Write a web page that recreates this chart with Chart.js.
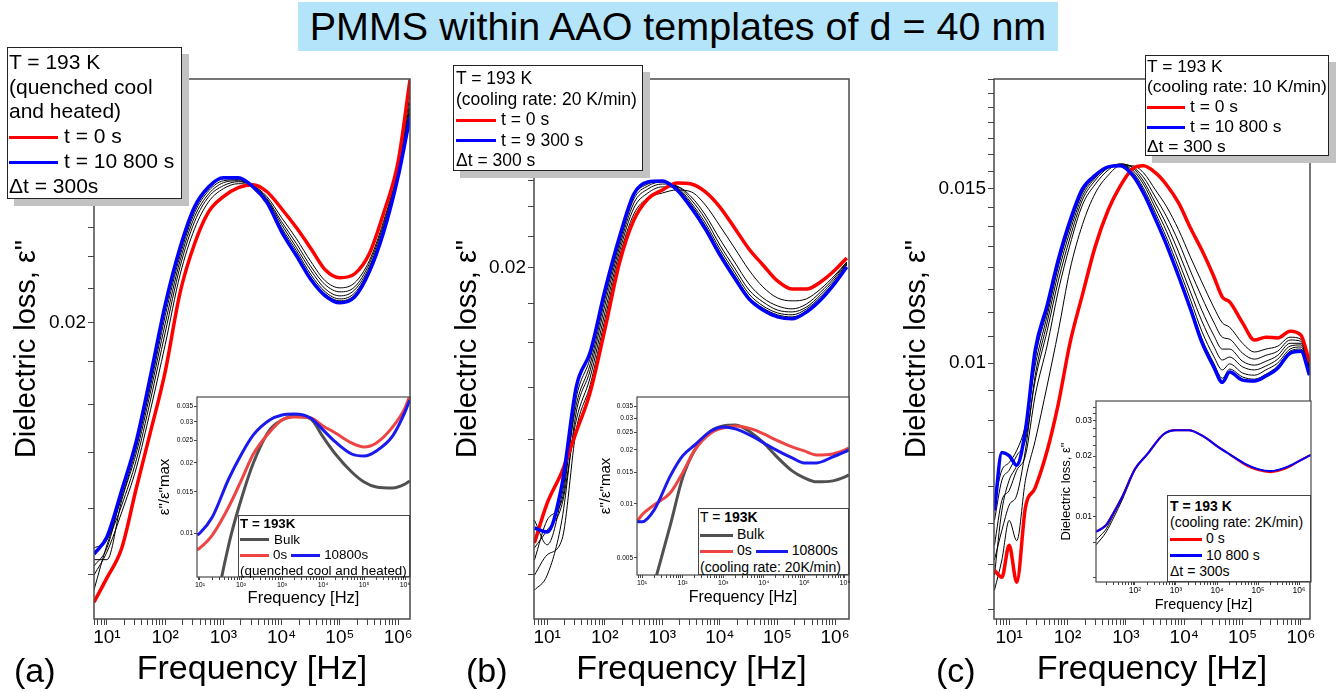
<!DOCTYPE html>
<html>
<head>
<meta charset="utf-8">
<script src="https://cdn.jsdelivr.net/npm/chart.js@4.4.1/dist/chart.umd.min.js"></script>
<style>
body { margin: 0; width: 1343px; height: 692px; background: #fff; position: relative; overflow: hidden;
       font-family: "Liberation Sans", Arial, sans-serif; color: #000; }
canvas { position: absolute; }
#title { position: absolute; left: 298px; top: 2px; width: 760px; height: 49px; background: #b4e4fa;
         font-size: 39.5px; line-height: 49px; text-align: center; white-space: nowrap; }
.tag { position: absolute; font-size: 34px; line-height: 40px; }
.lg { position: absolute; box-sizing: border-box; background: #fff; border: 1px solid #222; white-space: nowrap; }
.sh { box-shadow: 7px 7px 0 #c2c2c2; }
.sw { display: inline-block; vertical-align: middle; border-top-style: solid; }
</style>
</head>
<body>
<canvas id="ca"></canvas>
<canvas id="cb"></canvas>
<canvas id="cc"></canvas>
<canvas id="ia"></canvas>
<canvas id="ib"></canvas>
<canvas id="ic"></canvas>

<div id="title">PMMS within AAO templates of d = 40 nm</div>
<div class="tag" style="left:14px;top:650px">(a)</div>
<div class="tag" style="left:466px;top:650px">(b)</div>
<div class="tag" style="left:936px;top:650px">(c)</div>

<!-- main legends -->
<div class="lg sh" style="left:7px;top:47px;width:175px;height:152px;font-size:21px;line-height:24.7px;padding:2px 0 0 1px">
  <div>T = 193 K</div>
  <div>(quenched cool</div>
  <div>and heated)</div>
  <div><span class="sw" style="width:49px;border-top-width:3.5px;border-color:#f00;margin-right:6px"></span>t = 0 s</div>
  <div><span class="sw" style="width:49px;border-top-width:3.5px;border-color:#00f;margin-right:6px"></span>t = 10 800 s</div>
  <div>&Delta;t = 300s</div>
</div>
<div class="lg sh" style="left:453px;top:65px;width:190px;height:106px;font-size:17.5px;line-height:20.5px;padding:2px 0 0 2px">
  <div>T = 193 K</div>
  <div>(cooling rate: 20 K/min)</div>
  <div><span class="sw" style="width:40px;border-top-width:3.5px;border-color:#f00;margin-right:5px"></span>t = 0 s</div>
  <div><span class="sw" style="width:40px;border-top-width:3.5px;border-color:#00f;margin-right:5px"></span>t = 9 300 s</div>
  <div>&Delta;t = 300 s</div>
</div>
<div class="lg sh" style="left:1145px;top:55px;width:184px;height:101px;font-size:17.4px;line-height:20px;padding:0 0 0 1px">
  <div>T = 193 K</div>
  <div>(cooling rate: 10 K/min)</div>
  <div><span class="sw" style="width:38px;border-top-width:3.5px;border-color:#f00;margin-right:5px"></span>t = 0 s</div>
  <div><span class="sw" style="width:38px;border-top-width:3.5px;border-color:#00f;margin-right:5px"></span>t = 10 800 s</div>
  <div>&Delta;t = 300 s</div>
</div>

<!-- inset legends -->
<div class="lg" style="left:238px;top:515px;width:172px;height:62px;font-size:13.4px;line-height:15.5px;padding:0 0 0 1px;border-color:#444">
  <div><b>T = 193K</b></div>
  <div><span class="sw" style="width:29px;border-top-width:3.5px;border-color:#505050;margin-right:5px"></span>Bulk</div>
  <div><span class="sw" style="width:29px;border-top-width:3.5px;border-color:#ee4444;margin-right:4px"></span>0s<span class="sw" style="width:29px;border-top-width:3.5px;border-color:#1a1aee;margin:0 4px 0 4px"></span>10800s</div>
  <div>(quenched cool and heated)</div>
</div>
<div class="lg" style="left:698px;top:508px;width:151px;height:67px;font-size:14px;line-height:16.7px;padding:0 0 0 1px;border-color:#444">
  <div>T = <b>193K</b></div>
  <div><span class="sw" style="width:33px;border-top-width:3.5px;border-color:#505050;margin-right:4px"></span>Bulk</div>
  <div><span class="sw" style="width:33px;border-top-width:3.5px;border-color:#ee4444;margin-right:4px"></span>0s<span class="sw" style="width:32px;border-top-width:3.5px;border-color:#1a1aee;margin:0 4px 0 4px"></span>10800s</div>
  <div>(cooling rate: 20K/min)</div>
</div>
<div class="lg" style="left:1167px;top:495px;width:144px;height:87px;font-size:14px;line-height:16.2px;padding:2px 0 0 2px;border-color:#444">
  <div><b>T = 193 K</b></div>
  <div>(cooling rate: 2K/min)</div>
  <div><span class="sw" style="width:32px;border-top-width:3px;border-color:#f00;margin-right:4px"></span>0 s</div>
  <div><span class="sw" style="width:32px;border-top-width:3px;border-color:#00f;margin-right:4px"></span>10 800 s</div>
  <div>&Delta;t = 300s</div>
</div>

<script>
// ---- panel (a): quenched cool and heated ----
const freqA = [6, 10, 18, 32, 56, 100, 180, 320, 560, 1000, 1800, 3200, 5600, 1e4, 1.8e4, 3.2e4, 5.6e4, 1e5, 1.8e5, 3.2e5, 5.6e5, 1e6, 1.6e6];
const redA  = [0.00928, 0.00992, 0.01077, 0.01270, 0.01482, 0.01748, 0.02172, 0.02486, 0.02715, 0.02829, 0.02900, 0.02924, 0.02868, 0.02737, 0.02597, 0.02452, 0.02314, 0.02264, 0.02289, 0.02418, 0.02700, 0.03114, 0.03902];
const blueA = [0.01059, 0.01110, 0.01263, 0.01446, 0.01729, 0.02101, 0.02458, 0.02752, 0.02908, 0.02981, 0.02981, 0.02908, 0.02783, 0.02569, 0.02405, 0.02251, 0.02154, 0.02113, 0.02148, 0.02301, 0.02562, 0.02989, 0.03524];
const blackA1 = [0.01000, 0.01065, 0.01189, 0.01342, 0.01574, 0.01883, 0.02282, 0.02590, 0.02791, 0.02892, 0.02932, 0.02916, 0.02829, 0.02670, 0.02520, 0.02365, 0.02245, 0.02202, 0.02233, 0.02372, 0.02641, 0.03064, 0.03745];
const blackA2 = [0.00960, 0.01086, 0.01212, 0.01372, 0.01618, 0.01946, 0.02333, 0.02641, 0.02829, 0.02916, 0.02948, 0.02916, 0.02814, 0.02641, 0.02486, 0.02333, 0.02221, 0.02178, 0.02208, 0.02353, 0.02620, 0.03047, 0.03674];
const blackA3 = [0.01043, 0.01043, 0.01229, 0.01399, 0.01654, 0.01995, 0.02372, 0.02677, 0.02852, 0.02940, 0.02956, 0.02908, 0.02806, 0.02620, 0.02459, 0.02308, 0.02196, 0.02154, 0.02190, 0.02333, 0.02598, 0.03030, 0.03624];
const blackA4 = [0.01077, 0.01101, 0.01239, 0.01418, 0.01681, 0.02039, 0.02405, 0.02707, 0.02876, 0.02956, 0.02964, 0.02908, 0.02798, 0.02598, 0.02438, 0.02282, 0.02178, 0.02136, 0.02172, 0.02320, 0.02583, 0.03014, 0.03585];
const blackA5 = [0.01025, 0.01077, 0.01253, 0.01434, 0.01704, 0.02073, 0.02432, 0.02729, 0.02892, 0.02972, 0.02972, 0.02908, 0.02791, 0.02583, 0.02418, 0.02264, 0.02166, 0.02125, 0.02160, 0.02308, 0.02569, 0.02997, 0.03555];

// ---- panel (b): cooling rate 20 K/min ----
const freqB = [6, 10, 18, 32, 56, 100, 180, 320, 560, 1000, 1800, 3200, 5600, 1e4, 1.8e4, 3.2e4, 5.6e4, 1e5, 1.8e5, 3.2e5, 5.6e5, 1e6, 1.6e6];
const redB  = [0.00880, 0.00991, 0.01088, 0.01226, 0.01381, 0.01662, 0.02030, 0.02308, 0.02458, 0.02525, 0.02578, 0.02570, 0.02510, 0.02399, 0.02254, 0.02117, 0.02018, 0.01924, 0.01878, 0.01878, 0.01918, 0.01988, 0.02061];
const blueB = [0.00920, 0.00909, 0.01046, 0.01402, 0.01556, 0.01867, 0.02194, 0.02495, 0.02586, 0.02594, 0.02525, 0.02392, 0.02247, 0.02080, 0.01941, 0.01824, 0.01764, 0.01728, 0.01718, 0.01754, 0.01818, 0.01912, 0.02006];
const blackB1 = [0.00799, 0.00849, 0.00888, 0.01234, 0.01411, 0.01713, 0.02067, 0.02350, 0.02465, 0.02502, 0.02525, 0.02510, 0.02414, 0.02268, 0.02123, 0.01988, 0.01890, 0.01829, 0.01813, 0.01824, 0.01878, 0.01958, 0.02036];
const blackB2 = [0.00867, 0.00914, 0.00986, 0.01270, 0.01444, 0.01748, 0.02098, 0.02392, 0.02502, 0.02548, 0.02548, 0.02472, 0.02343, 0.02180, 0.02036, 0.01907, 0.01829, 0.01786, 0.01770, 0.01796, 0.01861, 0.01947, 0.02036];
const blackB3 = [0.00764, 0.00799, 0.00942, 0.01301, 0.01475, 0.01786, 0.02129, 0.02428, 0.02532, 0.02570, 0.02555, 0.02450, 0.02315, 0.02142, 0.02000, 0.01873, 0.01807, 0.01764, 0.01754, 0.01780, 0.01846, 0.01935, 0.02030];
const blackB4 = [0.00942, 0.00875, 0.01015, 0.01329, 0.01502, 0.01818, 0.02154, 0.02458, 0.02555, 0.02586, 0.02548, 0.02428, 0.02287, 0.02117, 0.01976, 0.01851, 0.01786, 0.01749, 0.01739, 0.01770, 0.01834, 0.01924, 0.02024];
const blackB5 = [0.00836, 0.00942, 0.01000, 0.01357, 0.01529, 0.01846, 0.02174, 0.02480, 0.02570, 0.02594, 0.02540, 0.02414, 0.02268, 0.02098, 0.01958, 0.01834, 0.01775, 0.01739, 0.01728, 0.01759, 0.01824, 0.01918, 0.02018];

// ---- panel (c): cooling rate 10 K/min ----
const freqC = [5.6, 7.5, 10, 13.5, 19, 28, 45, 70, 110, 180, 300, 500, 800, 1300, 2000, 3200, 5000, 8000, 1.3e4, 2e4, 3.2e4, 4.5e4, 6e4, 1e5, 1.6e5, 2.5e5, 4e5, 6.5e5, 1e6, 1.4e6];
const redC  = [0.00617, 0.00607, 0.00654, 0.00600, 0.00714, 0.00748, 0.00816, 0.00911, 0.01047, 0.01172, 0.01313, 0.01429, 0.01510, 0.01572, 0.01583, 0.01558, 0.01514, 0.01452, 0.01367, 0.01301, 0.01224, 0.01166, 0.01153, 0.01098, 0.01055, 0.01062, 0.01060, 0.01077, 0.01067, 0.01002];
const blueC = [0.00709, 0.00812, 0.00806, 0.00788, 0.00855, 0.01031, 0.01145, 0.01274, 0.01392, 0.01500, 0.01549, 0.01579, 0.01583, 0.01549, 0.01486, 0.01399, 0.01316, 0.01224, 0.01131, 0.01050, 0.00991, 0.00956, 0.00979, 0.00961, 0.00959, 0.00970, 0.00988, 0.01023, 0.01028, 0.00972];
const blackC1 = [0.00589, 0.00632, 0.00693, 0.00661, 0.00761, 0.00835, 0.00950, 0.01079, 0.01242, 0.01380, 0.01486, 0.01549, 0.01583, 0.01583, 0.01558, 0.01497, 0.01439, 0.01364, 0.01277, 0.01208, 0.01139, 0.01098, 0.01087, 0.01047, 0.01026, 0.01033, 0.01040, 0.01062, 0.01057, 0.00995];
const blackC2 = [0.00654, 0.00726, 0.00743, 0.00779, 0.00806, 0.00928, 0.01043, 0.01185, 0.01316, 0.01445, 0.01517, 0.01568, 0.01590, 0.01579, 0.01542, 0.01472, 0.01406, 0.01326, 0.01236, 0.01166, 0.01100, 0.01062, 0.01057, 0.01023, 0.01009, 0.01018, 0.01028, 0.01055, 0.01052, 0.00991];
const blackC3 = [0.00693, 0.00761, 0.00779, 0.00806, 0.00835, 0.00961, 0.01079, 0.01213, 0.01338, 0.01462, 0.01531, 0.01576, 0.01590, 0.01576, 0.01528, 0.01452, 0.01380, 0.01295, 0.01205, 0.01131, 0.01067, 0.01033, 0.01033, 0.01004, 0.00995, 0.01004, 0.01018, 0.01047, 0.01047, 0.00988];
const blackC4 = [0.00632, 0.00677, 0.00718, 0.00735, 0.00816, 0.00972, 0.01100, 0.01236, 0.01358, 0.01475, 0.01539, 0.01579, 0.01587, 0.01568, 0.01517, 0.01435, 0.01358, 0.01268, 0.01177, 0.01103, 0.01040, 0.01007, 0.01014, 0.00991, 0.00984, 0.00993, 0.01009, 0.01040, 0.01043, 0.00984];
const blackC5 = [0.00726, 0.00779, 0.00793, 0.00816, 0.00865, 0.00995, 0.01118, 0.01254, 0.01373, 0.01486, 0.01542, 0.01579, 0.01587, 0.01561, 0.01503, 0.01419, 0.01338, 0.01248, 0.01156, 0.01077, 0.01016, 0.00984, 0.00998, 0.00977, 0.00972, 0.00984, 0.01000, 0.01033, 0.01038, 0.00981];
const blackC6 = [0.00610, 0.00709, 0.00761, 0.00788, 0.00845, 0.01011, 0.01131, 0.01265, 0.01383, 0.01493, 0.01546, 0.01579, 0.01583, 0.01553, 0.01493, 0.01406, 0.01323, 0.01231, 0.01139, 0.01059, 0.01000, 0.00965, 0.00986, 0.00968, 0.00963, 0.00974, 0.00993, 0.01028, 0.01033, 0.00977];

// ---- insets ----
const freqIA = [8.5, 10, 20, 50, 100, 200, 500, 1000, 2000, 5000, 1e4, 2e4, 5e4, 1e5, 2e5, 5e5, 1e6, 1.3e6];
const bulkIA = [0.0010, 0.0013, 0.00384, 0.00888, 0.01385, 0.01997, 0.02767, 0.03054, 0.03178, 0.03084, 0.02582, 0.02182, 0.01827, 0.01655, 0.01575, 0.01560, 0.01623, 0.01672];
const redIA  = [0.00846, 0.00863, 0.00980, 0.01293, 0.01672, 0.02182, 0.02713, 0.03054, 0.03146, 0.03115, 0.02879, 0.02686, 0.02433, 0.02339, 0.02433, 0.02850, 0.03438, 0.03872];
const blueIA = [0.00980, 0.01000, 0.01171, 0.01705, 0.02161, 0.02634, 0.03054, 0.03209, 0.03241, 0.03115, 0.02767, 0.02457, 0.02182, 0.02140, 0.02248, 0.02608, 0.03305, 0.03720];

const freqIB = [7.5, 10, 20, 50, 100, 200, 500, 1000, 2000, 5000, 1e4, 2e4, 5e4, 1e5, 2e5, 5e5, 1e6, 1.25e6];
const bulkIB = [0.00158, 0.00202, 0.00359, 0.00764, 0.01395, 0.01996, 0.02543, 0.02712, 0.02748, 0.02480, 0.02182, 0.01848, 0.01525, 0.01395, 0.01326, 0.01342, 0.01413, 0.01449];
const redIB  = [0.00794, 0.00869, 0.00987, 0.01152, 0.01487, 0.01996, 0.02480, 0.02644, 0.02712, 0.02611, 0.02448, 0.02267, 0.02073, 0.01970, 0.01872, 0.01896, 0.01996, 0.02047];
const blueIB = [0.00794, 0.00794, 0.00926, 0.01431, 0.01848, 0.02127, 0.02543, 0.02679, 0.02611, 0.02386, 0.02182, 0.01996, 0.01801, 0.01689, 0.01689, 0.01825, 0.01945, 0.01996];

const freqIC = [11.2, 15, 20, 30, 50, 100, 200, 500, 1000, 2000, 5000, 1e4, 2e4, 5e4, 1e5, 2e5, 5e5, 1e6, 1.9e6];
const redIC  = [0.00844, 0.00873, 0.00914, 0.01047, 0.01269, 0.01725, 0.02046, 0.02569, 0.02689, 0.02689, 0.02483, 0.02241, 0.02046, 0.01806, 0.01706, 0.01667, 0.01745, 0.01890, 0.02023];
const blueIC = [0.00844, 0.00873, 0.00914, 0.01047, 0.01269, 0.01725, 0.02046, 0.02569, 0.02689, 0.02689, 0.02483, 0.02241, 0.02046, 0.01826, 0.01725, 0.01687, 0.01765, 0.01890, 0.02023];
const blackIC1 = [0.00770, 0.00815, 0.00873, 0.01023, 0.01255, 0.01725, 0.02046, 0.02569, 0.02689, 0.02689, 0.02483, 0.02241, 0.02046, 0.01826, 0.01725, 0.01687, 0.01765, 0.01890, 0.02023];
const blackIC2 = [0.00727, 0.00779, 0.00844, 0.00989, 0.01227, 0.01706, 0.02046, 0.02569, 0.02689, 0.02689, 0.02483, 0.02241, 0.02046, 0.01826, 0.01725, 0.01687, 0.01765, 0.01890, 0.02023];

const FONT = '"Liberation Sans", Arial, sans-serif';
const SUP = { 10: '10¹', 100: '10²', 1000: '10³', 10000: '10⁴', 100000: '10⁵', 1000000: '10⁶' };

function logTicks(min, max) {
    const out = [];
    for (let e = 0; e <= 7; e++)
        for (let m = 1; m <= 9; m++) {
            const v = m * Math.pow(10, e);
            if (v >= min && v <= max) out.push(v);
        }
    return out;
}
function stepTicks(start, step, n) {
    const out = [];
    for (let i = 0; i < n; i++) out.push(Number((start + i * step).toFixed(6)));
    return out;
}
const near = (v, list) => list.find(t => Math.abs(v - t) < 1e-7);

const line = (fx, fy, color, w) => ({
    data: fx.map((f, i) => ({ x: f, y: fy[i] })),
    borderColor: color, borderWidth: w, fill: false
});

// box around the plot area (and optional white fill for the insets)
const framePlugin = {
    id: 'frame',
    beforeDatasetsDraw(chart, args, o) {
        if (!o.fill) return;
        const a = chart.chartArea, ctx = chart.ctx;
        ctx.save();
        ctx.fillStyle = o.fill;
        ctx.fillRect(a.left, a.top, a.right - a.left, a.bottom - a.top);
        ctx.restore();
    },
    afterDraw(chart, args, o) {
        const a = chart.chartArea, ctx = chart.ctx;
        ctx.save();
        ctx.strokeStyle = '#4a4a4a';
        ctx.lineWidth = o.width;
        ctx.strokeRect(a.left, a.top, a.right - a.left, a.bottom - a.top);
        ctx.restore();
    }
};

function makeChart(id, c) {
    const cv = document.getElementById(id);
    const [L, T, W, H] = c.box;
    const [al, at, ar, ab] = c.area;
    cv.width = W; cv.height = H;
    cv.style.left = L + 'px'; cv.style.top = T + 'px';
    return new Chart(cv, {
        type: 'line',
        data: { datasets: c.datasets },
        options: {
            responsive: false, animation: false, devicePixelRatio: 1,
            layout: { padding: { left: 0, top: at - T, right: L + W - ar, bottom: 0 } },
            plugins: { legend: { display: false }, tooltip: { enabled: false }, frame: { width: c.frameWidth, fill: c.fill } },
            elements: { point: { radius: 0 }, line: { cubicInterpolationMode: 'monotone' } },
            scales: {
                x: {
                    type: 'logarithmic', min: c.xMin, max: c.xMax,
                    afterFit: s => { s.height = T + H - ab; },
                    afterBuildTicks: s => { s.ticks = logTicks(c.xMin, c.xMax).map(v => ({ value: v })); },
                    ticks: { autoSkip: false, maxRotation: 0, minRotation: 0, padding: c.xPad, color: '#000',
                             font: { family: FONT, size: c.xTickSize }, callback: v => SUP[v] || '' },
                    grid: { drawOnChartArea: false, tickLength: c.tickLen, tickColor: '#444', color: '#444' },
                    border: { display: false },
                    title: { display: true, text: 'Frequency [Hz]', color: '#000',
                             font: { family: FONT, size: c.xTitleSize }, padding: { top: 0, bottom: c.xTitlePad } }
                },
                y: {
                    type: 'logarithmic', min: c.yMin, max: c.yMax,
                    afterFit: s => { s.width = al - L; },
                    afterBuildTicks: s => { s.ticks = c.yTicks.map(v => ({ value: v })); },
                    ticks: { autoSkip: false, padding: c.yPad, color: '#000',
                             font: { family: FONT, size: c.yTickSize },
                             callback: v => { const t = near(v, c.yLabels); return t === undefined ? '' : String(t); } },
                    grid: { drawOnChartArea: false, tickLength: c.tickLen, tickColor: '#444', color: '#444' },
                    border: { display: false },
                    title: { display: true, text: c.yTitle, color: '#000',
                             font: { family: FONT, size: c.yTitleSize }, padding: { top: c.yTitlePad, bottom: 0 } }
                }
            }
        },
        plugins: [framePlugin]
    });
}

const RED = '#ff0000', BLUE = '#0000ff';
const YT = 'Dielectric loss, ε"';
const mainOpts = { frameWidth: 1.5, tickLen: 6, xPad: 1, yPad: 2, xTickSize: 19, yTickSize: 19,
                   xTitleSize: 34, xTitlePad: 2, yTitleSize: 29, yTitle: YT };

makeChart('ca', Object.assign({}, mainOpts, {
    box: [0, 0, 430, 692], area: [94, 79, 410, 619],
    xMin: 6, xMax: 1.6e6, yMin: 0.00886, yMax: 0.0391,
    yTicks: stepTicks(0.010, 0.002, 15), yLabels: [0.02], yTitlePad: 10,
    datasets: [line(freqA, blueA, BLUE, 3.5), line(freqA, redA, RED, 3.5),
               ...[blackA1, blackA2, blackA3, blackA4, blackA5].map(b => line(freqA, b, '#000', 1))]
}));

makeChart('cb', Object.assign({}, mainOpts, {
    box: [440, 0, 430, 692], area: [534, 79, 849, 619],
    xMin: 5.9, xMax: 1.75e6, yMin: 0.00701, yMax: 0.03517,
    yTicks: stepTicks(0.008, 0.002, 14), yLabels: [0.02], yTitlePad: 11,
    datasets: [line(freqB, blueB, BLUE, 3.5), line(freqB, redB, RED, 3.5),
               ...[blackB1, blackB2, blackB3, blackB4, blackB5].map(b => line(freqB, b, '#000', 1))]
}));

makeChart('cc', Object.assign({}, mainOpts, {
    box: [880, 0, 463, 692], area: [994, 79, 1310, 619],
    xMin: 5.5, xMax: 1.43e6, yMin: 0.005508, yMax: 0.01938,
    yTicks: stepTicks(0.005625, 0.000625, 23), yLabels: [0.01, 0.015], yTitlePad: 20,
    datasets: [line(freqC, blueC, BLUE, 3.5), line(freqC, redC, RED, 3.5),
               ...[blackC1, blackC2, blackC3, blackC4, blackC5, blackC6].map(b => line(freqC, b, '#000', 1))]
}));

const insetOpts = { frameWidth: 1.2, tickLen: 3, xPad: 1, yPad: 1, fill: '#fff' };
const IRED = '#ee4444', IBLUE = '#1a1aee', GRAY = '#505050';

makeChart('ia', Object.assign({}, insetOpts, {
    box: [155, 390, 265, 220], area: [197, 397, 410, 577],
    xMin: 8.45, xMax: 1.32e6, yMin: 0.00648, yMax: 0.0383,
    xTickSize: 7, yTickSize: 6.5, xTitleSize: 16.5, xTitlePad: 2, yTitleSize: 15, yTitlePad: 1,
    yTitle: 'ε"/ε"max',
    yTicks: stepTicks(0.01, 0.005, 6), yLabels: stepTicks(0.01, 0.005, 6),
    datasets: [line(freqIA, blueIA, IBLUE, 3), line(freqIA, redIA, IRED, 3), line(freqIA, bulkIA, GRAY, 3)]
}));

makeChart('ib', Object.assign({}, insetOpts, {
    box: [595, 390, 264, 220], area: [637, 397, 849, 575],
    xMin: 7.53, xMax: 1.26e6, yMin: 0.00402, yMax: 0.0393,
    xTickSize: 7, yTickSize: 6.5, xTitleSize: 16, xTitlePad: 3, yTitleSize: 15, yTitlePad: 2,
    yTitle: 'ε"/ε"max',
    yTicks: stepTicks(0.005, 0.005, 7), yLabels: stepTicks(0.005, 0.005, 7),
    datasets: [line(freqIB, blueIB, IBLUE, 3), line(freqIB, redIB, IRED, 3), line(freqIB, bulkIB, GRAY, 3)]
}));

makeChart('ic', Object.assign({}, insetOpts, {
    box: [1050, 390, 273, 225], area: [1096, 401, 1311, 582],
    xMin: 11.2, xMax: 1.96e6, yMin: 0.00476, yMax: 0.0375,
    xTickSize: 8.5, yTickSize: 8.5, xTitleSize: 14.4, xTitlePad: 1, yTitleSize: 13, yTitlePad: 9,
    yTitle: YT,
    yTicks: stepTicks(0.005, 0.0025, 13), yLabels: [0.01, 0.02, 0.03],
    datasets: [line(freqIC, blueIC, BLUE, 2), line(freqIC, redIC, RED, 2.2),
               line(freqIC, blackIC1, '#000', 1), line(freqIC, blackIC2, '#000', 1)]
}));
</script>
</body>
</html>
